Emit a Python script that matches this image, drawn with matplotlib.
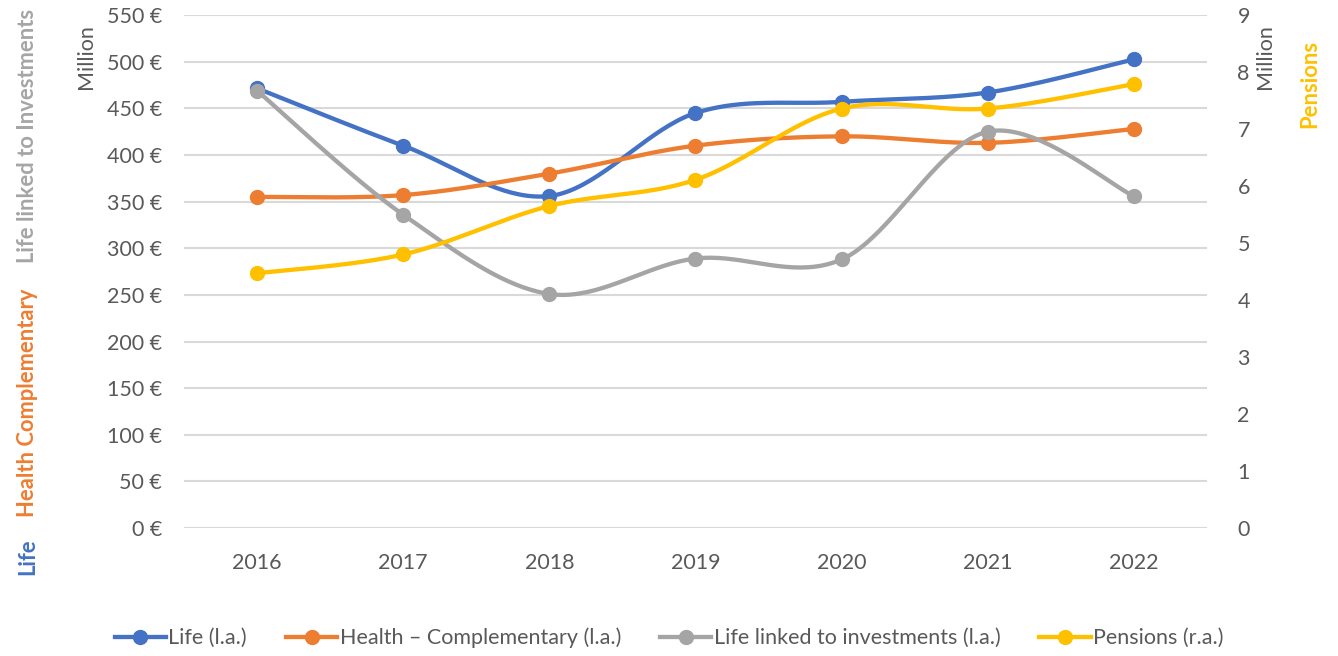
import matplotlib
matplotlib.use("Agg")
import matplotlib.pyplot as plt
from matplotlib.lines import Line2D
import numpy as np

plt.rcParams['font.family'] = ['Lato', 'DejaVu Sans']

years = ["2016", "2017", "2018", "2019", "2020", "2021", "2022"]
life = [471.5, 410, 356, 445, 457, 467, 502.5]
health = [355, 357, 380, 410, 420, 413, 428]
life_linked = [469, 336, 251, 289, 288, 425, 356]
pensions = [4.47, 4.80, 5.65, 6.11, 7.36, 7.36, 7.79]

left_ticks = list(range(0, 551, 50))
right_ticks = list(range(0, 10))

BLUE = "#4472C4"
ORANGE = "#ED7D31"
GRAY = "#A5A5A5"
YELLOW = "#FFC000"
TEXT = "#595959"
GRID = "#D9D9D9"
FS = 15.5
TFS = 15.8


def smooth(y, n=40):
    # catmull-rom style smoothing, like excel's "smoothed line"
    y = np.asarray(y, dtype=float)
    x = np.arange(len(y), dtype=float)
    pts = np.column_stack([x, y])
    out = []
    for i in range(len(pts) - 1):
        p0 = pts[i - 1] if i > 0 else pts[i]
        p1 = pts[i]
        p2 = pts[i + 1]
        p3 = pts[i + 2] if i + 2 < len(pts) else pts[i + 1]
        c1 = p1 + (p2 - p0) / 6
        c2 = p2 - (p3 - p1) / 6
        t = np.linspace(0, 1, n)[:, None]
        seg = ((1 - t) ** 3) * p1 + 3 * ((1 - t) ** 2) * t * c1 + 3 * (1 - t) * t ** 2 * c2 + t ** 3 * p2
        out.append(seg)
    out = np.vstack(out)
    return out[:, 0], out[:, 1]


fig = plt.figure(figsize=(13.38, 6.56), dpi=100)
ax = fig.add_axes([0.1375, 0.195, 0.7645, 0.782])
ax2 = ax.twinx()

lw = 3.1
ms = 10
xs = np.arange(len(years))
for vals, color in [(life, BLUE), (health, ORANGE), (life_linked, GRAY)]:
    sx, sy = smooth(vals)
    ax.plot(sx, sy, color=color, lw=lw, solid_capstyle='round', zorder=3)
    ax.plot(xs, vals, 'o', color=color, ms=ms, zorder=4)

sx, sy = smooth(pensions)
ax2.plot(sx, sy, color=YELLOW, lw=lw, solid_capstyle='round', zorder=3)
ax2.plot(xs, pensions, 'o', color=YELLOW, ms=ms, zorder=4)

ax.set_xlim(-0.5, len(years) - 0.5)
ax.set_ylim(0, 550)
ax2.set_ylim(0, 9)
ax.set_xticks(xs)
ax.set_xticklabels(years)
ax.set_yticks(left_ticks)
ax.set_yticklabels([f"{v} €" for v in left_ticks])
ax2.set_yticks(right_ticks)
ax.yaxis.grid(True, color=GRID, lw=1.5)
ax.set_axisbelow(True)

for a in (ax, ax2):
    for s in a.spines.values():
        s.set_visible(False)
    a.tick_params(length=0, labelsize=FS, colors=TEXT)
ax.tick_params(axis='y', pad=16)
ax.tick_params(axis='x', pad=18)
ax2.tick_params(axis='y', pad=22)

# axis unit labels
fig.text(86 / 1338, 1 - 57 / 656, "Million", rotation=90, color=TEXT,
         fontsize=FS, ha='center', va='center')
fig.text(1265 / 1338, 1 - 57 / 656, "Million", rotation=90, color=TEXT,
         fontsize=FS, ha='center', va='center')
fig.text(1310 / 1338, 1 - 84 / 656, "Pensions", rotation=90, color=YELLOW,
         fontsize=TFS, fontweight='bold', ha='center', va='center')

# multi-coloured left axis title
fig.text(28 / 1338, 1 - 557 / 656, "Life", rotation=90, color=BLUE,
         fontsize=TFS, fontweight='bold', ha='center', va='center')
fig.text(28 / 1338, 1 - 403 / 656, "Health Complementary", rotation=90, color=ORANGE,
         fontsize=TFS, fontweight='bold', ha='center', va='center')
fig.text(28 / 1338, 1 - 136 / 656, "Life linked to Investments", rotation=90, color=GRAY,
         fontsize=TFS, fontweight='bold', ha='center', va='center')

labels = ["Life (l.a.)", "Health – Complementary (l.a.)",
          "Life linked to investments (l.a.)", "Pensions (r.a.)"]
handles = [Line2D([], [], color=c, lw=lw, marker='o', ms=ms)
           for c in (BLUE, ORANGE, GRAY, YELLOW)]
leg = fig.legend(handles, labels, loc='center', bbox_to_anchor=(0.5, 1 - 638 / 656),
                 ncol=4, frameon=False, fontsize=FS, handlelength=2.4,
                 handletextpad=0.1, columnspacing=1.8, labelcolor=TEXT)

fig.savefig("out.png", dpi=100)
